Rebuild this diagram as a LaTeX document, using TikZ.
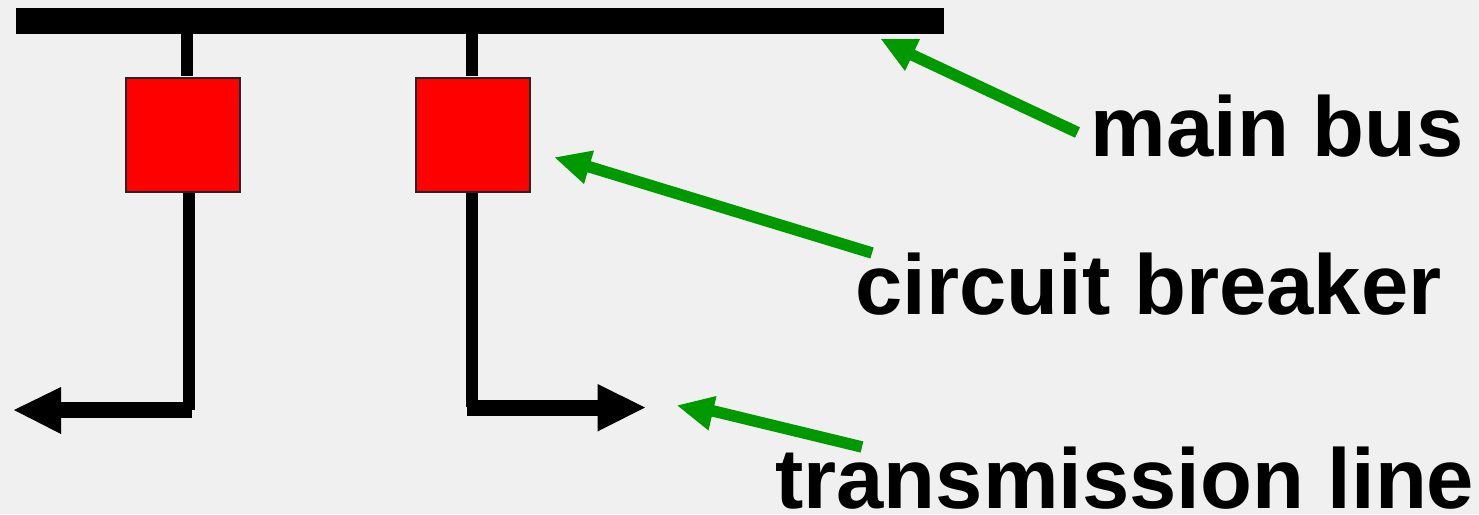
\documentclass[tikz,border=0pt]{standalone}
\usepackage{fontspec}
\setmainfont{Liberation Sans}
\definecolor{bg}{HTML}{F0F0F0}
\definecolor{arrowgreen}{HTML}{009900}
\begin{document}
\begin{tikzpicture}[x=1pt,y=-1pt,
  lbl/.style={font=\fontsize{85}{85}\selectfont\bfseries,text=black,inner sep=0pt,anchor=base west},
  breaker/.style={draw=black!85,line width=2pt,fill=red,minimum width=114pt,minimum height=114pt,inner sep=0pt},
  wire/.style={draw=black,line width=12pt},
  wireh/.style={draw=black,line width=16pt},
  pointer/.style={draw=arrowgreen,line width=11.5pt}]
\useasboundingbox[fill=bg] (0,0) rectangle (1479,514);
\fill[black] (16,8) rectangle (944,34);
\coordinate (t1) at (187,34);
\coordinate (t2) at (472.2,34);
\node[breaker] (b1) at (182.5,134.5) {};
\node[breaker] (b2) at (473,134.5) {};
\draw[wire] (t1) -- (187,76);
\draw[wire] (t2) -- (472.2,76);
\coordinate (c1) at (189,410);
\coordinate (c2) at (472.2,407);
\draw[wire] (189,193) -- (c1);
\draw[wire] (472.2,193) -- (c2);
\coordinate (e1) at (60,410);
\coordinate (e2) at (598,407.5);
\draw[wireh] (192,410) -- (e1);
\draw[wireh] (467,407.5) -- (e2);
\fill[black] (14,410) -- (61,387) -- (61,434) -- cycle;
\fill[black] (645,407.5) -- (597.5,384) -- (597.5,431.5) -- cycle;
\node[lbl] (l1) at (1090.5,156.5) {main bus};
\node[lbl] (l2) at (855.5,314) {circuit breaker};
\node[lbl] (l3) at (775,508) {transmission line};
\coordinate (p1a) at (1077.5,132.5);\coordinate (p1b) at (908,53);
\coordinate (p2a) at (872,253);\coordinate (p2b) at (580,164);
\coordinate (p3a) at (862,447);\coordinate (p3b) at (705,409);
\draw[pointer] (p1a) -- (p1b);
\draw[pointer] (p2a) -- (p2b);
\draw[pointer] (p3a) -- (p3b);
\fill[arrowgreen] (881,39) -- (920,39) -- (905,71) -- cycle;
\fill[arrowgreen] (555,157.5) -- (594,150.5) -- (584,184) -- cycle;
\fill[arrowgreen] (677.5,405.5) -- (716.5,396) -- (708.5,430.5) -- cycle;
\end{tikzpicture}
\end{document}
